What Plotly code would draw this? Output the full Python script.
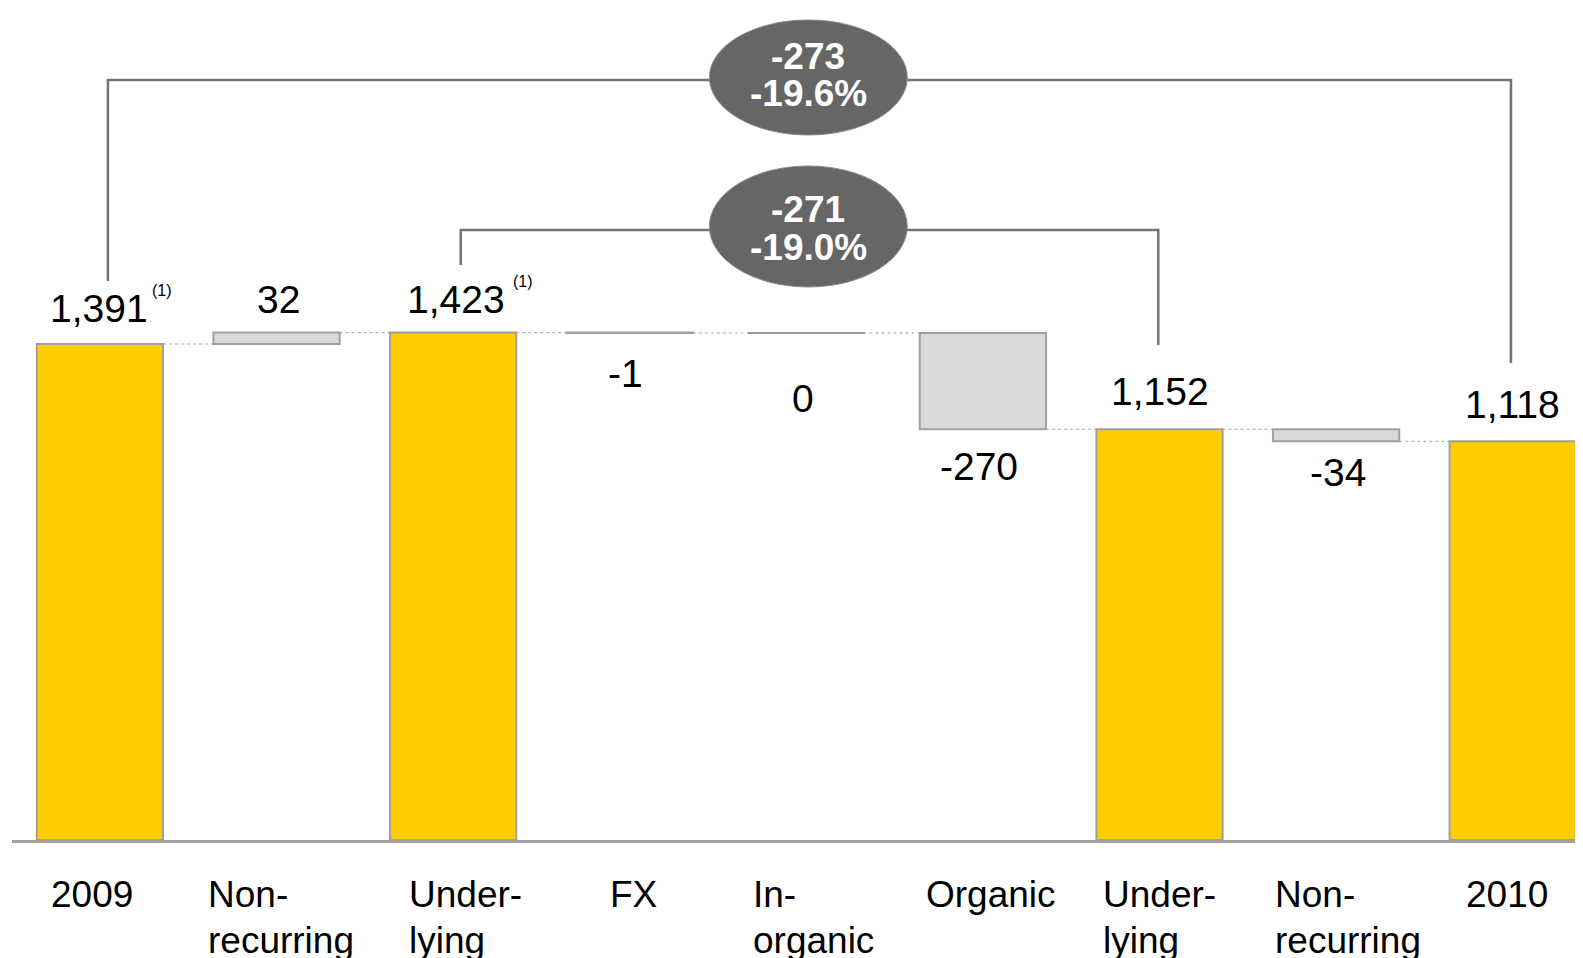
import plotly.graph_objects as go

# ---------------- data ----------------
categories = ["2009", "Non-recurring", "Underlying", "FX", "Inorganic",
              "Organic", "Underlying", "Non-recurring", "2010"]
tick_line1 = ["2009", "Non-", "Under-", "FX", "In-", "Organic", "Under-", "Non-", "2010"]
tick_line2 = ["", "recurring", "lying", "", "organic", "", "lying", "recurring", ""]
values = [1391, 32, 1423, -1, 0, -270, 1152, -34, 1118]
is_total = [True, False, True, False, False, False, True, False, True]
value_labels = ["1,391", "32", "1,423", "-1", "0", "-270", "1,152", "-34", "1,118"]
footnotes = ["(1)", "", "(1)", "", "", "", "", "", ""]
outer_change = ["-273", "-19.6%"]
inner_change = ["-271", "-19.0%"]

# ---------------- styling ----------------
BODY = 8                      # default page margin of the html body
W, H = 1583 - BODY, 958 - BODY
AXIS_Y = 840                  # page row of the axis line
S = 0.35658                   # px per data unit
ML, MR, MT = 12 - BODY, 0, 0
MB = H - (AXIS_Y - BODY)
PLOT_H = AXIS_Y - BODY
YMAX = PLOT_H / S
XR = [-0.498, 8.398]
BAR_W = 0.715
YELLOW = "#FFCC00"
GREY_FILL = "#D9D9D9"
EDGE = "#A0A0A0"
FONT = "Liberation Sans, Arial, sans-serif"
# label offsets in px (positive = up / right)
label_shift = [35.5, 33, 33, -41, -66, -37, 38, -31, 37]
label_dx = [-1, 2, 3, -4, -3, -4, 0, 2, 0]
foot_dx = [51, 0, 59, 0, 0, 0, 0, 0, 0]
# left offsets (px) of category labels from category centre
tick_dx = [-49.5, -69.7, -45.4, -21.1, -54.8, -57.5, -57.7, -61.9, -47.6]


def py(px):
    """page pixel row -> data y"""
    return (AXIS_Y - px) / S


def ppaper(px):
    return (AXIS_Y - px) / PLOT_H


# ---------------- waterfall geometry from data ----------------
bases, heights, ends = [], [], []
running = 0
for v, tot in zip(values, is_total):
    if tot:
        bases.append(0)
        heights.append(v)
        running = v
    else:
        bases.append(running)
        heights.append(v)
        running = running + v
    ends.append(running)

idx = list(range(len(categories)))

fig = go.Figure()

# connectors (dotted)
cx, cy = [], []
for i in range(len(idx) - 1):
    cx += [i + BAR_W / 2, i + 1 - BAR_W / 2, None]
    cy += [ends[i], ends[i], None]
fig.add_trace(go.Scatter(x=cx, y=cy, mode="lines", hoverinfo="skip",
                         line=dict(color="#A6A6A6", width=1, dash="dot"),
                         showlegend=False))

tot_idx = [i for i in idx if is_total[i]]
fig.add_trace(go.Bar(x=tot_idx, y=[heights[i] for i in tot_idx],
                     base=[bases[i] for i in tot_idx], width=BAR_W,
                     marker=dict(color=YELLOW, line=dict(color=EDGE, width=2)),
                     showlegend=False))

d_idx = [i for i in idx if not is_total[i] and values[i] != 0]
fig.add_trace(go.Bar(x=d_idx, y=[heights[i] for i in d_idx],
                     base=[bases[i] for i in d_idx], width=BAR_W,
                     marker=dict(color=GREY_FILL, line=dict(color=EDGE, width=2)),
                     showlegend=False))

# zero-height change drawn as a flat line
z_idx = [i for i in idx if not is_total[i] and values[i] == 0]
zx, zy = [], []
for i in z_idx:
    zx += [i - 0.334, i + 0.334, None]
    zy += [bases[i], bases[i], None]
fig.add_trace(go.Scatter(x=zx, y=zy, mode="lines", hoverinfo="skip",
                         line=dict(color="#999999", width=2), showlegend=False))

annotations = []
# value labels
for i in idx:
    if is_total[i] or values[i] > 0:
        yv = max(bases[i], bases[i] + heights[i])
    else:
        yv = min(bases[i], bases[i] + heights[i])
    annotations.append(dict(x=i, y=yv, xref="x", yref="y", text=value_labels[i],
                            showarrow=False, yanchor="middle", xanchor="center",
                            xshift=label_dx[i], yshift=label_shift[i], borderpad=0,
                            font=dict(family=FONT, size=39, color="#000000")))
    if footnotes[i]:
        annotations.append(dict(x=i, y=yv, xref="x", yref="y", text=footnotes[i],
                                showarrow=False, yanchor="middle", xanchor="left",
                                xshift=foot_dx[i], yshift=label_shift[i] + 18, borderpad=0,
                                font=dict(family=FONT, size=16, color="#000000")))

# category labels (lines left-aligned)
for i in idx:
    for k, line in enumerate([tick_line1[i], tick_line2[i]]):
        if not line:
            continue
        annotations.append(dict(x=i, y=0, xref="x", yref="paper", text=line,
                                showarrow=False, xanchor="left", yanchor="top",
                                xshift=tick_dx[i], yshift=-33.2 - 45.4 * k, borderpad=0,
                                font=dict(family=FONT, size=37, color="#000000")))

# bracket shapes
LINE = dict(color="#737373", width=2.5)
first, last = 0, len(idx) - 1
under1, under2 = 2, 6
shapes = [
    dict(type="path", xref="x", yref="y", layer="above", line=LINE,
         path=f"M {first + 0.045},{py(281)} L {first + 0.045},{py(80)} "
              f"L {last - 0.01},{py(80)} L {last - 0.01},{py(363)}"),
    dict(type="path", xref="x", yref="y", layer="above", line=LINE,
         path=f"M {under1 + 0.043},{py(265)} L {under1 + 0.043},{py(230)} "
              f"L {under2 - 0.007},{py(230)} L {under2 - 0.007},{py(345)}"),
]
ecx = 4 + 2 / 176.7
ehw = 99 / 176.7
for top, bot in [(20, 135), (166, 287)]:
    shapes.append(dict(type="circle", xref="x", yref="paper", layer="above",
                       x0=ecx - ehw, x1=ecx + ehw, y0=ppaper(bot), y1=ppaper(top),
                       fillcolor="#666666", line=dict(color="#8A8A8A", width=1)))

for txts, centers in [(outer_change, (56, 94)), (inner_change, (209.5, 247))]:
    for t, c in zip(txts, centers):
        annotations.append(dict(x=4, y=ppaper(c), xref="x", yref="paper", text=f"<b>{t}</b>",
                                showarrow=False, xanchor="center", yanchor="middle",
                                xshift=2, borderpad=0,
                                font=dict(family=FONT, size=37, color="#FFFFFF")))

fig.update_layout(
    width=W, height=H,
    margin=dict(l=ML, r=MR, t=MT, b=MB, pad=0),
    paper_bgcolor="white", plot_bgcolor="white",
    barmode="overlay",
    xaxis=dict(range=XR, showticklabels=False, showgrid=False, zeroline=False,
               showline=True, linecolor=EDGE, linewidth=3, ticks=""),
    yaxis=dict(range=[0, YMAX], visible=False, showgrid=False, zeroline=False),
    annotations=annotations,
    shapes=shapes,
    showlegend=False,
)

fig.write_html("out.html")
